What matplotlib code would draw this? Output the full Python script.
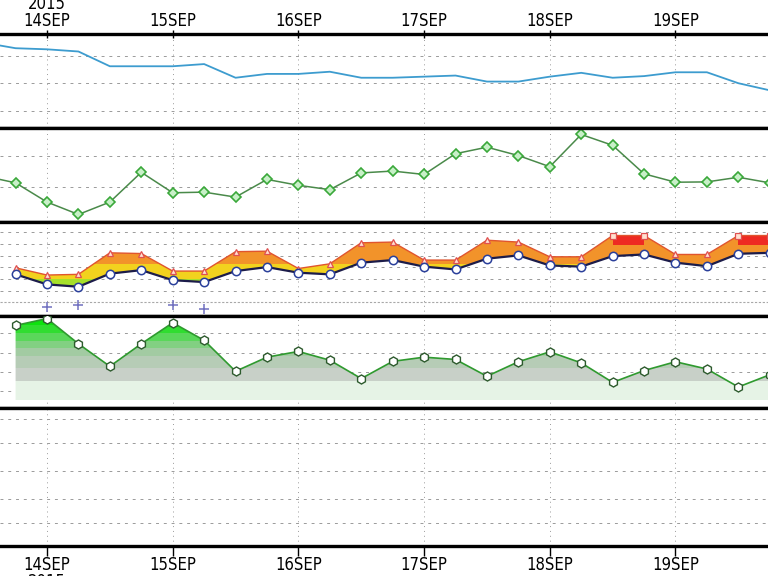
import numpy as np
import matplotlib
matplotlib.use('Agg')
import matplotlib.pyplot as plt
from matplotlib.colors import ListedColormap, BoundaryNorm

plt.rcParams['font.family'] = ['Liberation Sans Narrow', 'DejaVu Sans']
plt.rcParams['font.stretch'] = 'condensed'

# 6-hourly steps, in days of September 2015
t_full = np.arange(13.5, 19.76, 0.25)   # panels 1, 2
t_fc = np.arange(13.75, 19.76, 0.25)    # panels 3, 4

day_ticks = [14, 15, 16, 17, 18, 19]
top_labels = ['2015\n14SEP', '15SEP', '16SEP', '17SEP', '18SEP', '19SEP']
bot_labels = ['14SEP\n2015', '15SEP', '16SEP', '17SEP', '18SEP', '19SEP']

# panel 1 - pressure (hPa)
pres = [1017.4, 1016.4, 1016.2, 1015.8, 1013.1, 1013.1, 1013.1, 1013.5, 1011.0,
        1011.7, 1011.7, 1012.1, 1011.0, 1011.0, 1011.2, 1011.4, 1010.3, 1010.3,
        1011.2, 1011.9, 1011.0, 1011.3, 1012.0, 1012.0, 1010.0, 1008.7]
pres_grid = [1005, 1010, 1015]

# panel 2
p2 = [13.7, 11.5, 5.3, 1.3, 5.3, 14.9, 8.3, 8.5, 6.9, 12.6, 10.7, 9.3, 14.7,
      15.3, 14.2, 20.9, 23.0, 20.3, 16.7, 27.1, 23.6, 14.4, 11.7, 11.8, 13.3, 11.5]
p2_grid = [10, 20]

# panel 3 - lower / upper curves
low3 = [12.0, 7.7, 6.7, 12.3, 13.8, 9.5, 8.7, 13.4, 15.1, 12.7, 12.0, 17.0, 18.1,
        15.3, 14.1, 18.7, 20.1, 15.8, 15.3, 19.8, 20.5, 17.0, 15.5, 20.8, 21.2]
up3 = [14.8, 11.7, 12.0, 21.2, 20.9, 13.4, 13.4, 21.7, 21.9, 14.5, 16.5, 25.5, 25.8,
       18.1, 18.1, 26.6, 25.8, 19.5, 19.5, 28.6, 28.6, 20.5, 20.5, 28.6, 28.6]
plus_t = [14.0, 14.25, 15.0, 15.25]
plus_v = [-2.1, -0.9, -0.9, -3.0]
p3_grid = [5, 10, 15, 20, 25, 30]

# panel 4
p4 = [17.1, 18.9, 12.3, 6.4, 12.3, 17.8, 13.2, 5.1, 8.8, 10.3, 8.0, 3.2, 7.7,
      8.8, 8.2, 3.8, 7.6, 10.2, 7.3, 2.2, 5.3, 7.6, 5.7, 1.0, 4.2]
p4_grid = [0, 5, 10, 15]

# panel 5 (empty)
p5_grid = [23, 47, 75, 103, 127]

W, H = 768, 576
fig = plt.figure(figsize=(W / 100, H / 100), dpi=100)
fig.patch.set_facecolor('white')

xlim = (13.626, 19.736)
edges = [34, 127.5, 221.5, 315.5, 408, 546]
ylims = [(1001.9, 1019.0), (-0.97, 29.35), (-5.6, 34.6), (-4.5, 19.7), (0, 138)]
grids = [pres_grid, p2_grid, p3_grid, p4_grid, p5_grid]

axes = []
for i in range(5):
    top, bot = edges[i], edges[i + 1]
    ax = fig.add_axes([0, 1 - bot / H, 1, (bot - top) / H])
    ax.set_xlim(*xlim)
    ax.set_ylim(*ylims[i])
    for s in ['left', 'right']:
        ax.spines[s].set_visible(False)
    for s in ['top', 'bottom']:
        ax.spines[s].set_linewidth(2.4)
    ax.set_yticks([])
    ax.set_xticks(day_ticks)
    ax.tick_params(axis='x', labelbottom=False, length=0)
    for g in grids[i]:
        ax.axhline(g, color='#9a9a9a', lw=0.7, ls=(0, (3, 5)), zorder=0)
    for d in day_ticks:
        ax.axvline(d, color='#9a9a9a', lw=0.7, ls=(0, (1, 4)), zorder=0)
    axes.append(ax)

ax1, ax2, ax3, ax4, ax5 = axes

ax1.xaxis.tick_top()
ax1.set_xticklabels(top_labels, fontsize=12, linespacing=0.9)
ax1.tick_params(axis='x', top=True, labeltop=True, direction='inout', length=6, width=1, pad=0)

ax5.set_xticklabels(bot_labels, fontsize=12, linespacing=0.9)
ax5.tick_params(axis='x', bottom=True, labelbottom=True, direction='out', length=7, width=1, pad=0.5)

# panel 1
ax1.plot(t_full, pres, color='#3d9ccf', lw=1.3)

# panel 2
ax2.plot(t_full, p2, color='#4a8a4a', lw=1.1, marker='D', ms=5,
         mfc='#c8f0c8', mec='#3aa83a', mew=1.2)

# panel 3: fill coloured by level
poly3 = ax3.fill_between(t_fc, low3, up3, facecolor='none', edgecolor='none')
cmap3 = ListedColormap(['#a6e02a', '#f2d21e', '#f2932a'])
norm3 = BoundaryNorm([-10, 10, 16, 40], cmap3.N)
grad3 = np.linspace(-5.6, 34.6, 500).reshape(-1, 1)
im3 = ax3.imshow(grad3, extent=[xlim[0], xlim[1], -5.6, 34.6], origin='lower',
                 aspect='auto', cmap=cmap3, norm=norm3, interpolation='nearest', zorder=1)
im3.set_clip_path(poly3.get_paths()[0], transform=ax3.transData)
up3a = np.array(up3)
ax3.fill_between(t_fc, 24.5, up3a, where=up3a > 27, color='#ee2a22', lw=0, zorder=1.5)
ax3.axhline(0, color='#a8a8a8', lw=0.8, ls=(0, (2, 1.5)), zorder=0)
ax3.plot(t_fc, up3, color='#e0552e', lw=1.0, zorder=2)
for x, v in zip(t_fc, up3):
    mk = 's' if v > 27 else '^'
    ax3.plot(x, v, marker=mk, ms=4, mfc='#ffe0d0', mec='#e05050', mew=0.9, zorder=3)
ax3.plot(t_fc, low3, color='#1c1c4a', lw=1.6, marker='o', ms=6,
         mfc='white', mec='#2a3f9a', mew=1.1, zorder=3)
ax3.plot(plus_t, plus_v, ls='none', marker='+', ms=7, mew=1.1, color='#7070c0', zorder=3)
ax3.set_ylim(-5.6, 34.6)

# panel 4: green gradient area
poly4 = ax4.fill_between(t_fc, -2.4, p4, facecolor='none', edgecolor='none')
cmap4 = ListedColormap(['#e6f3e6', '#c8d0c8', '#b6ccb6', '#a2cba2', '#82d082',
                        '#5ad75a', '#30dd30', '#0ee20e'])
norm4 = BoundaryNorm([-10, 2.4, 6, 9, 11, 13, 15, 17, 40], cmap4.N)
grad4 = np.linspace(-4.5, 19.7, 500).reshape(-1, 1)
im4 = ax4.imshow(grad4, extent=[xlim[0], xlim[1], -4.5, 19.7], origin='lower',
                 aspect='auto', cmap=cmap4, norm=norm4, interpolation='nearest', zorder=1)
im4.set_clip_path(poly4.get_paths()[0], transform=ax4.transData)
ax4.plot(t_fc, p4, color='#2f9a2f', lw=1.2, marker='h', ms=6.5,
         mfc='white', mec='#2d5a2d', mew=1.0, zorder=3)
ax4.set_ylim(-4.5, 19.7)

for ax in axes:
    ax.set_xlim(*xlim)

fig.savefig('out.png', dpi=100, facecolor='white')
